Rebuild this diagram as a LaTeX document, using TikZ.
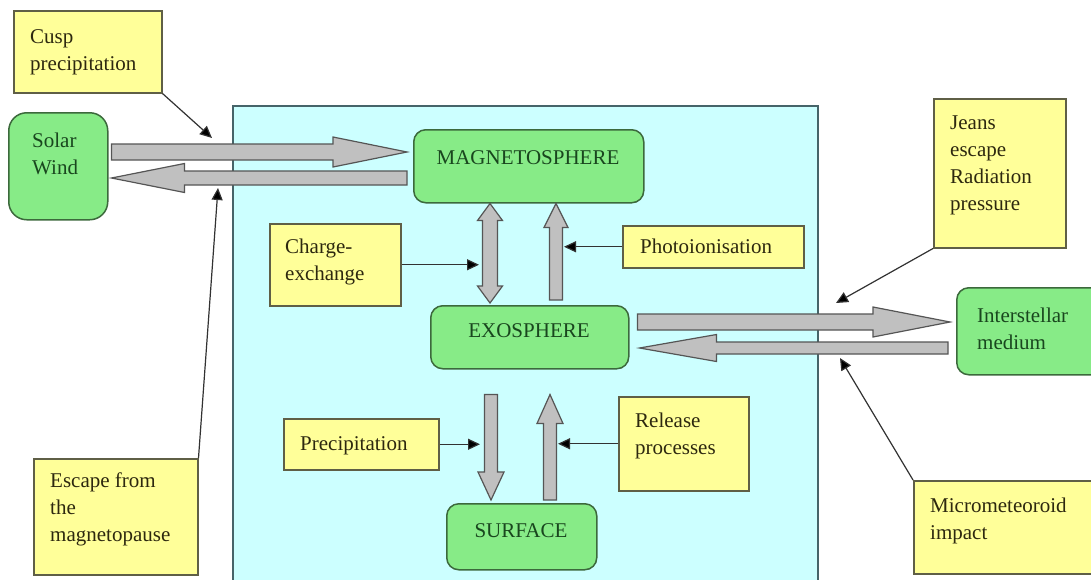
\documentclass[tikz,border=0pt]{standalone}
\usepackage{fontspec}
\setmainfont{Liberation Serif}
\usetikzlibrary{calc,arrows.meta}
\definecolor{cyanbg}{RGB}{204,255,255}
\definecolor{cyanline}{RGB}{70,100,105}
\definecolor{yel}{RGB}{255,255,153}
\definecolor{yline}{RGB}{95,95,70}
\definecolor{ytext}{RGB}{45,40,15}
\definecolor{grn}{RGB}{135,235,135}
\definecolor{gline}{RGB}{60,105,60}
\definecolor{gtext}{RGB}{25,70,30}
\definecolor{arrgray}{RGB}{192,192,192}
\definecolor{arrline}{RGB}{85,85,85}
\definecolor{lineclr}{RGB}{50,50,50}
\tikzset{
  ybox/.style={draw=yline, fill=yel, line width=1.5pt, inner sep=0pt, anchor=north west},
  gbox/.style={draw=gline, fill=grn, line width=1.5pt, rounded corners=12pt, inner sep=0pt, anchor=north west},
  ytxt/.style={text=ytext, font=\fontsize{21}{27}\selectfont, align=left, inner sep=0pt, anchor=north west, execute at begin node=\strut},
  gtxt/.style={text=gtext, font=\fontsize{21}{27}\selectfont, align=left, inner sep=0pt, anchor=north west, execute at begin node=\strut},
  gctxt/.style={text=gtext, font=\fontsize{21}{27}\selectfont, inner sep=0pt, anchor=base},
  thinarrow/.style={draw=lineclr, line width=1.2pt, -{Triangle[length=12pt,width=11pt,fill=black]}},
  blockarr/.style={fill=arrgray, draw=arrline, line width=1.2pt, line join=miter}
}
% #1 start, #2 tip, #3 shaft half width, #4 head half width, #5 head length
\newcommand\blockarrow[5]{%
  \coordinate (bahead) at ($(#2)!#5!(#1)$);
  \filldraw[blockarr] ($(#1)!#3!90:(#2)$) -- ($(bahead)!#3!90:(#2)$) -- ($(bahead)!#4!90:(#2)$) -- (#2)
    -- ($(bahead)!#4!-90:(#2)$) -- ($(bahead)!#3!-90:(#2)$) -- ($(#1)!#3!-90:(#2)$) -- cycle;
}
\newcommand\dblockarrow[5]{%
  \coordinate (bahA) at ($(#1)!#5!(#2)$);
  \coordinate (bahB) at ($(#2)!#5!(#1)$);
  \filldraw[blockarr] (#1) -- ($(bahA)!#4!90:(#2)$) -- ($(bahA)!#3!90:(#2)$) -- ($(bahB)!#3!-90:(#1)$)
    -- ($(bahB)!#4!-90:(#1)$) -- (#2) -- ($(bahB)!#4!90:(#1)$) -- ($(bahB)!#3!90:(#1)$)
    -- ($(bahA)!#3!-90:(#2)$) -- ($(bahA)!#4!-90:(#2)$) -- cycle;
}
\begin{document}
\begin{tikzpicture}[x=1pt,y=-1pt]
\useasboundingbox (0,0) rectangle (1091,579);
\clip (0,0) rectangle (1091,579);
\fill[white] (0,0) rectangle (1091,579);

% central region
\filldraw[fill=cyanbg, draw=cyanline, line width=1.5pt] (233,106) rectangle (818,600);

% boxes
\node[ybox, minimum width=148pt, minimum height=82pt] (cusp) at (13,10) {};
\node[ytxt] (cusptxt) at (30,29) {Cusp\\precipitation};

\node[gbox, rounded corners=18pt, minimum width=99pt, minimum height=107pt] (solar) at (8,112) {};
\node[gtxt] (solartxt) at (32,133) {Solar\\Wind};

\node[gbox, minimum width=230pt, minimum height=73pt] (magneto) at (413,129) {};
\node[gctxt] (magnetotxt) at (528,164) {MAGNETOSPHERE};

\node[ybox, minimum width=131pt, minimum height=82pt] (charge) at (269,223) {};
\node[ytxt] (chargetxt) at (285,239) {Charge-\\exchange};

\node[ybox, minimum width=181pt, minimum height=42pt] (photo) at (622,225) {};
\node[ytxt] (phototxt) at (640,234) {Photoionisation};

\node[gbox, minimum width=198pt, minimum height=63pt] (exo) at (430,305) {};
\node[gctxt] (exotxt) at (529,337) {EXOSPHERE};

\node[ybox, minimum width=132pt, minimum height=149pt] (jeans) at (933,98) {};
\node[ytxt] (jeanstxt) at (950,116) {Jeans\\escape\\Radiation\\pressure};

\node[gbox, minimum width=150pt, minimum height=87pt] (inter) at (956,287) {};
\node[gtxt] (intertxt) at (977,308) {Interstellar\\medium};

\node[ybox, minimum width=164pt, minimum height=116pt] (escape) at (33,458) {};
\node[ytxt] (escapetxt) at (50,473) {Escape from\\the\\magnetopause};

\node[ybox, minimum width=155pt, minimum height=51pt] (precip) at (283,418) {};
\node[ytxt] (preciptxt) at (300,431) {Precipitation};

\node[ybox, minimum width=130pt, minimum height=94pt] (release) at (618,396) {};
\node[ytxt] (releasetxt) at (635,413) {Release\\processes};

\node[gbox, minimum width=150pt, minimum height=66pt] (surface) at (446,503) {};
\node[gctxt] (surfacetxt) at (521,537) {SURFACE};

\node[ybox, minimum width=190pt, minimum height=93pt] (micro) at (913,480) {};
\node[ytxt] (microtxt) at (930,498) {Micrometeoroid\\impact};

% block arrows
\coordinate (swOut) at ($(solar.east |- 0,152)+(3,0)$);
\coordinate (mgIn)  at ($(magneto.west |- 0,152)+(-6,0)$);
\coordinate (mgOut) at ($(magneto.west |- 0,178)+(-6,0)$);
\coordinate (swIn)  at ($(solar.east |- 0,178)+(3,0)$);
\blockarrow{swOut}{mgIn}{8pt}{15pt}{74pt}
\blockarrow{mgOut}{swIn}{7pt}{14.5pt}{73pt}

\coordinate (meTop) at ($(490,0 |- magneto.south)$);
\coordinate (meBot) at ($(490,0 |- exo.north)+(0,-2)$);
\dblockarrow{meTop}{meBot}{7.5pt}{12.5pt}{17pt}
\coordinate (emBot) at ($(556,0 |- exo.north)+(0,-5)$);
\coordinate (emTop) at ($(556,0 |- magneto.south)$);
\blockarrow{emBot}{emTop}{6.5pt}{12pt}{24pt}

\coordinate (exOut) at ($(exo.east |- 0,322)+(8,0)$);
\coordinate (inIn)  at ($(inter.west |- 0,322)+(-6,0)$);
\coordinate (inOut) at ($(inter.west |- 0,348)+(-8,0)$);
\coordinate (exIn)  at ($(exo.east |- 0,348)+(10,0)$);
\blockarrow{exOut}{inIn}{8pt}{15pt}{77pt}
\blockarrow{inOut}{exIn}{6pt}{13.5pt}{77pt}

\coordinate (esTop) at ($(491,0 |- exo.south)+(0,25)$);
\coordinate (esBot) at ($(491,0 |- surface.north)+(0,-3)$);
\coordinate (seBot) at ($(550,0 |- surface.north)+(0,-3)$);
\coordinate (seTop) at ($(550,0 |- exo.south)+(0,25)$);
\blockarrow{esTop}{esBot}{6.5pt}{13pt}{28pt}
\blockarrow{seBot}{seTop}{6.5pt}{13pt}{29pt}

% thin arrows
\coordinate (cuspT) at (212,138);
\coordinate (escT) at (218,188);
\coordinate (jeansT) at (836,303);
\coordinate (microT) at (840,358);
\draw[thinarrow] (cusp.south east) -- (cuspT);
\draw[thinarrow] (escape.north east) -- (escT);
\draw[thinarrow] (charge.east) -- (charge.east -| 479,0);
\draw[thinarrow] (photo.west) -- (photo.west -| 564,0);
\draw[thinarrow] (jeans.south west) -- (jeansT);
\draw[thinarrow] (micro.north west) -- (microT);
\draw[thinarrow] (precip.east) -- (precip.east -| 480,0);
\draw[thinarrow] (release.west) -- (release.west -| 558,0);
\end{tikzpicture}
\end{document}
